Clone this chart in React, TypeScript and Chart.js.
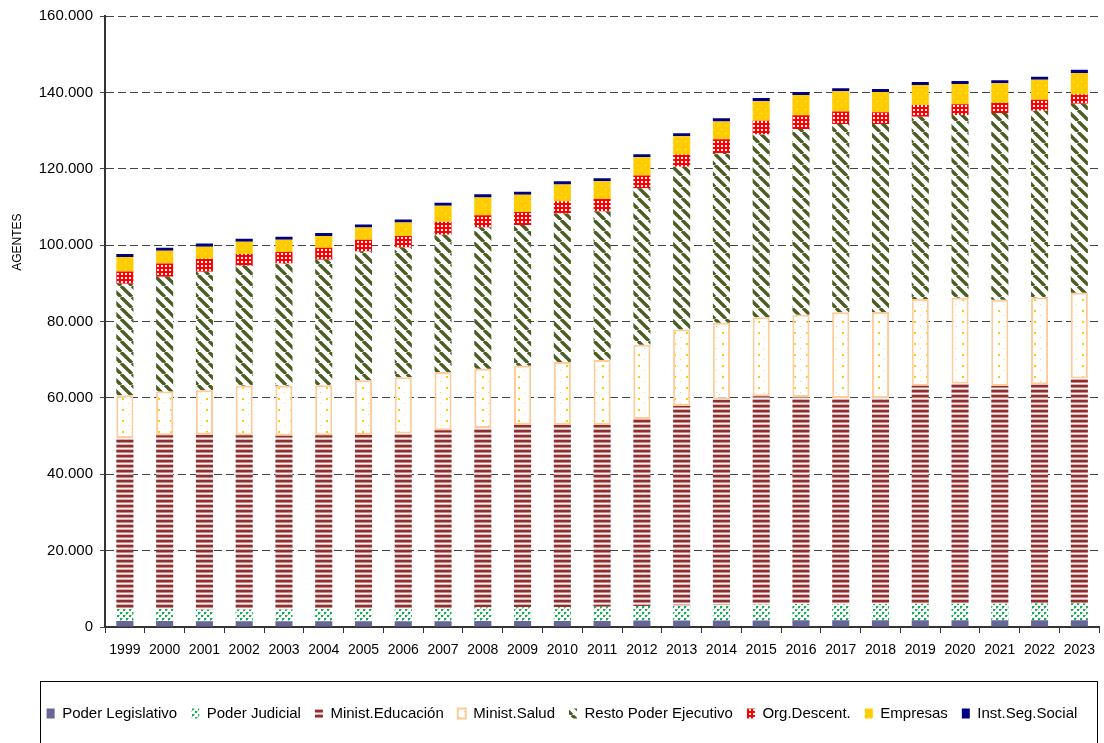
import React, { useEffect, useRef } from 'react';
import { Chart, registerables } from 'chart.js';

Chart.register(...registerables);

const years = ['1999','2000','2001','2002','2003','2004','2005','2006','2007','2008','2009','2010','2011','2012','2013','2014','2015','2016','2017','2018','2019','2020','2021','2022','2023'];

const poderLegislativo = [1600,1600,1500,1500,1500,1500,1500,1500,1500,1600,1600,1600,1600,1700,1700,1700,1700,1800,1800,1800,1800,1800,1800,1800,1800];
const poderJudicial = [3100,3100,3000,3100,3100,3200,3200,3300,3400,3500,3600,3600,3700,3800,3900,4000,4100,4200,4100,4200,4300,4300,4300,4400,4400];
const ministEducacion = [44800,45500,45900,45600,45500,45500,45600,45900,46600,47100,47700,47700,47600,49000,52300,53900,54600,54200,54100,54000,57100,57600,57000,57400,58900];
const ministSalud = [11200,11500,11600,13000,13100,13100,14300,14700,15300,15400,15500,16500,17000,19400,20000,20100,20700,21600,22400,22500,22700,22500,22600,22700,22400];
const restoEjecutivo = [29200,30000,31000,31400,32000,32900,33700,34000,35900,37000,36900,38900,38900,41000,42600,44400,47900,48600,49300,49200,47700,47900,48900,48900,49500];
const orgDescent = [3200,3500,3400,3100,3000,3100,3100,3000,3400,3200,3400,3200,3300,3300,3200,3600,3600,3600,3300,3100,3100,2800,2700,2900,2500];
const empresas = [3800,3300,3200,3200,3200,3100,3200,3500,4200,4700,4500,4400,4600,4800,4800,4700,5100,5300,5300,5300,5200,5300,5100,5200,5600];
const instSegSocial = [800,800,800,800,800,800,800,800,800,800,800,800,800,800,800,800,800,800,800,800,800,800,800,800,800];

const yTicks = [0, 20000, 40000, 60000, 80000, 100000, 120000, 140000, 160000];
const yTitle = 'AGENTES';

const FONT = 'Arial, "Liberation Sans", sans-serif';

function tile(w: number, h: number, draw: (c: CanvasRenderingContext2D) => void) {
  const c = document.createElement('canvas');
  c.width = w;
  c.height = h;
  const ctx = c.getContext('2d')!;
  draw(ctx);
  return ctx.createPattern(c, 'repeat')!;
}

function makePatterns() {
  const judicial = tile(6, 6, (c) => {
    c.fillStyle = '#ffffff'; c.fillRect(0, 0, 6, 6);
    c.fillStyle = '#12b050'; c.fillRect(0, 0, 2, 2); c.fillRect(3, 3, 2, 2);
    c.fillStyle = '#86d8a4'; c.fillRect(2, 0, 1, 1); c.fillRect(5, 3, 1, 1); c.fillRect(0, 2, 1, 1);
  });
  const educ = tile(4, 5, (c) => {
    c.fillStyle = '#8e2f2f'; c.fillRect(0, 0, 4, 2);
    c.fillStyle = '#c48a8a'; c.fillRect(0, 2, 4, 1);
    c.fillStyle = '#fbf1f1'; c.fillRect(0, 3, 4, 1);
    c.fillStyle = '#dcb0b0'; c.fillRect(0, 4, 4, 1);
  });
  const salud = tile(12, 11, (c) => {
    c.fillStyle = '#ffffff'; c.fillRect(0, 0, 12, 11);
    c.fillStyle = '#ffcc00'; c.fillRect(2, 2, 2, 2);
    c.fillStyle = '#ffd966'; c.fillRect(8, 7, 1, 1);
  });
  const resto = tile(11, 11, (c) => {
    c.fillStyle = '#ffffff'; c.fillRect(0, 0, 11, 11);
    c.strokeStyle = '#4a5e23'; c.lineWidth = 3.4;
    for (const k of [-11, 0, 11]) {
      c.beginPath(); c.moveTo(k, 0); c.lineTo(k + 11, 11); c.stroke();
    }
  });
  const org = tile(4, 4, (c) => {
    c.fillStyle = '#ff0000'; c.fillRect(0, 0, 4, 4);
    c.fillStyle = '#ffffff'; c.fillRect(1, 1, 2, 2);
  });
  const emp = tile(8, 8, (c) => {
    c.fillStyle = '#ffcc00'; c.fillRect(0, 0, 8, 8);
    c.fillStyle = '#ffe27a'; c.fillRect(1, 1, 1, 1); c.fillRect(5, 5, 1, 1);
  });
  return { judicial, educ, salud, resto, org, emp };
}

function fmt(v: number) {
  return String(v).replace(/\B(?=(\d{3})+(?!\d))/g, '.');
}

export default function App() {
  const ref = useRef<HTMLCanvasElement>(null);
  useEffect(() => {
    const canvas = ref.current!;
    const p = makePatterns();
    Chart.defaults.font.family = FONT;

    const legendBox = {
      id: 'legendBox',
      afterDraw(chart: any) {
        const lg = chart.legend;
        const ctx = chart.ctx;
        const left = Math.round(lg.left + 16) + 0.5;
        const top = Math.round(lg.top - 11) + 0.5;
        const right = Math.round(chart.chartArea.right - 2) + 0.5;
        ctx.save();
        ctx.strokeStyle = '#000';
        ctx.lineWidth = 1;
        ctx.strokeRect(left, top, right - left, 120);
        ctx.restore();
      },
    };
    const yTitlePlugin = {
      id: 'yTitle',
      afterDraw(chart: any) {
        const { ctx, chartArea } = chart;
        const x = chart.scales.y.left - 6;
        const y = chartArea.top + (chartArea.bottom - chartArea.top) * 0.37;
        ctx.save();
        ctx.translate(x, y);
        ctx.rotate(-Math.PI / 2);
        ctx.font = `12px ${FONT}`;
        ctx.fillStyle = '#000';
        ctx.textAlign = 'center';
        ctx.textBaseline = 'middle';
        ctx.fillText(yTitle, 0, 0);
        ctx.restore();
      },
    };

    const common = { borderWidth: 0, barPercentage: 0.43, categoryPercentage: 1.0 };
    const chart = new Chart(canvas, {
      type: 'bar',
      data: {
        labels: years,
        datasets: [
          { label: 'Poder Legislativo', data: poderLegislativo, backgroundColor: '#666699', ...common },
          { label: 'Poder Judicial', data: poderJudicial, backgroundColor: p.judicial, ...common },
          { label: 'Minist.Educación', data: ministEducacion, backgroundColor: p.educ, ...common },
          { label: 'Minist.Salud', data: ministSalud, backgroundColor: p.salud, ...common, borderWidth: 2, borderColor: '#ffcc99', borderSkipped: false },
          { label: 'Resto Poder Ejecutivo', data: restoEjecutivo, backgroundColor: p.resto, ...common },
          { label: 'Org.Descent.', data: orgDescent, backgroundColor: p.org, ...common },
          { label: 'Empresas', data: empresas, backgroundColor: p.emp, ...common },
          { label: 'Inst.Seg.Social', data: instSegSocial, backgroundColor: '#000080', ...common },
        ],
      },
      options: {
        animation: false,
        responsive: false,
        maintainAspectRatio: false,
        devicePixelRatio: 1,
        layout: { padding: { left: 24, right: 4, top: 15, bottom: 12 } },
        plugins: {
          legend: {
            position: 'bottom',
            labels: { boxWidth: 8, boxHeight: 10, padding: 14, color: '#000', font: { size: 15, family: FONT } },
          },
          tooltip: { enabled: false },
        },
        scales: {
          x: {
            stacked: true,
            offset: true,
            grid: { display: true, offset: true, drawOnChartArea: false, drawTicks: true, tickLength: 6, tickColor: '#333', tickWidth: 1, color: '#333' },
            border: { display: true, color: '#333', width: 2 },
            ticks: { autoSkip: false, maxRotation: 0, minRotation: 0, color: '#000', font: { size: 14, family: FONT }, padding: 9 },
            afterFit: (s: any) => { s.height = 65; },
          },
          y: {
            stacked: true,
            min: 0,
            max: 160000,
            afterBuildTicks: (s: any) => { s.ticks = yTicks.map((v) => ({ value: v })); },
            ticks: { color: '#000', font: { size: 15, family: FONT }, padding: 7, callback: (v: any) => fmt(Number(v)) },
            grid: { color: '#444', lineWidth: 1, tickLength: 5, tickColor: '#444', drawTicks: true },
            border: { display: true, color: '#333', width: 2, dash: [8, 4] },
            afterFit: (s: any) => { s.width = 81; },
          },
        },
      },
      plugins: [legendBox, yTitlePlugin],
    } as any);
    return () => chart.destroy();
  }, []);
  return (
    <div style={{ position: 'fixed', left: 0, top: 0, width: 1104, height: 743, background: '#fff' }}>
      <canvas ref={ref} width={1104} height={743} style={{ display: 'block' }} />
    </div>
  );
}
